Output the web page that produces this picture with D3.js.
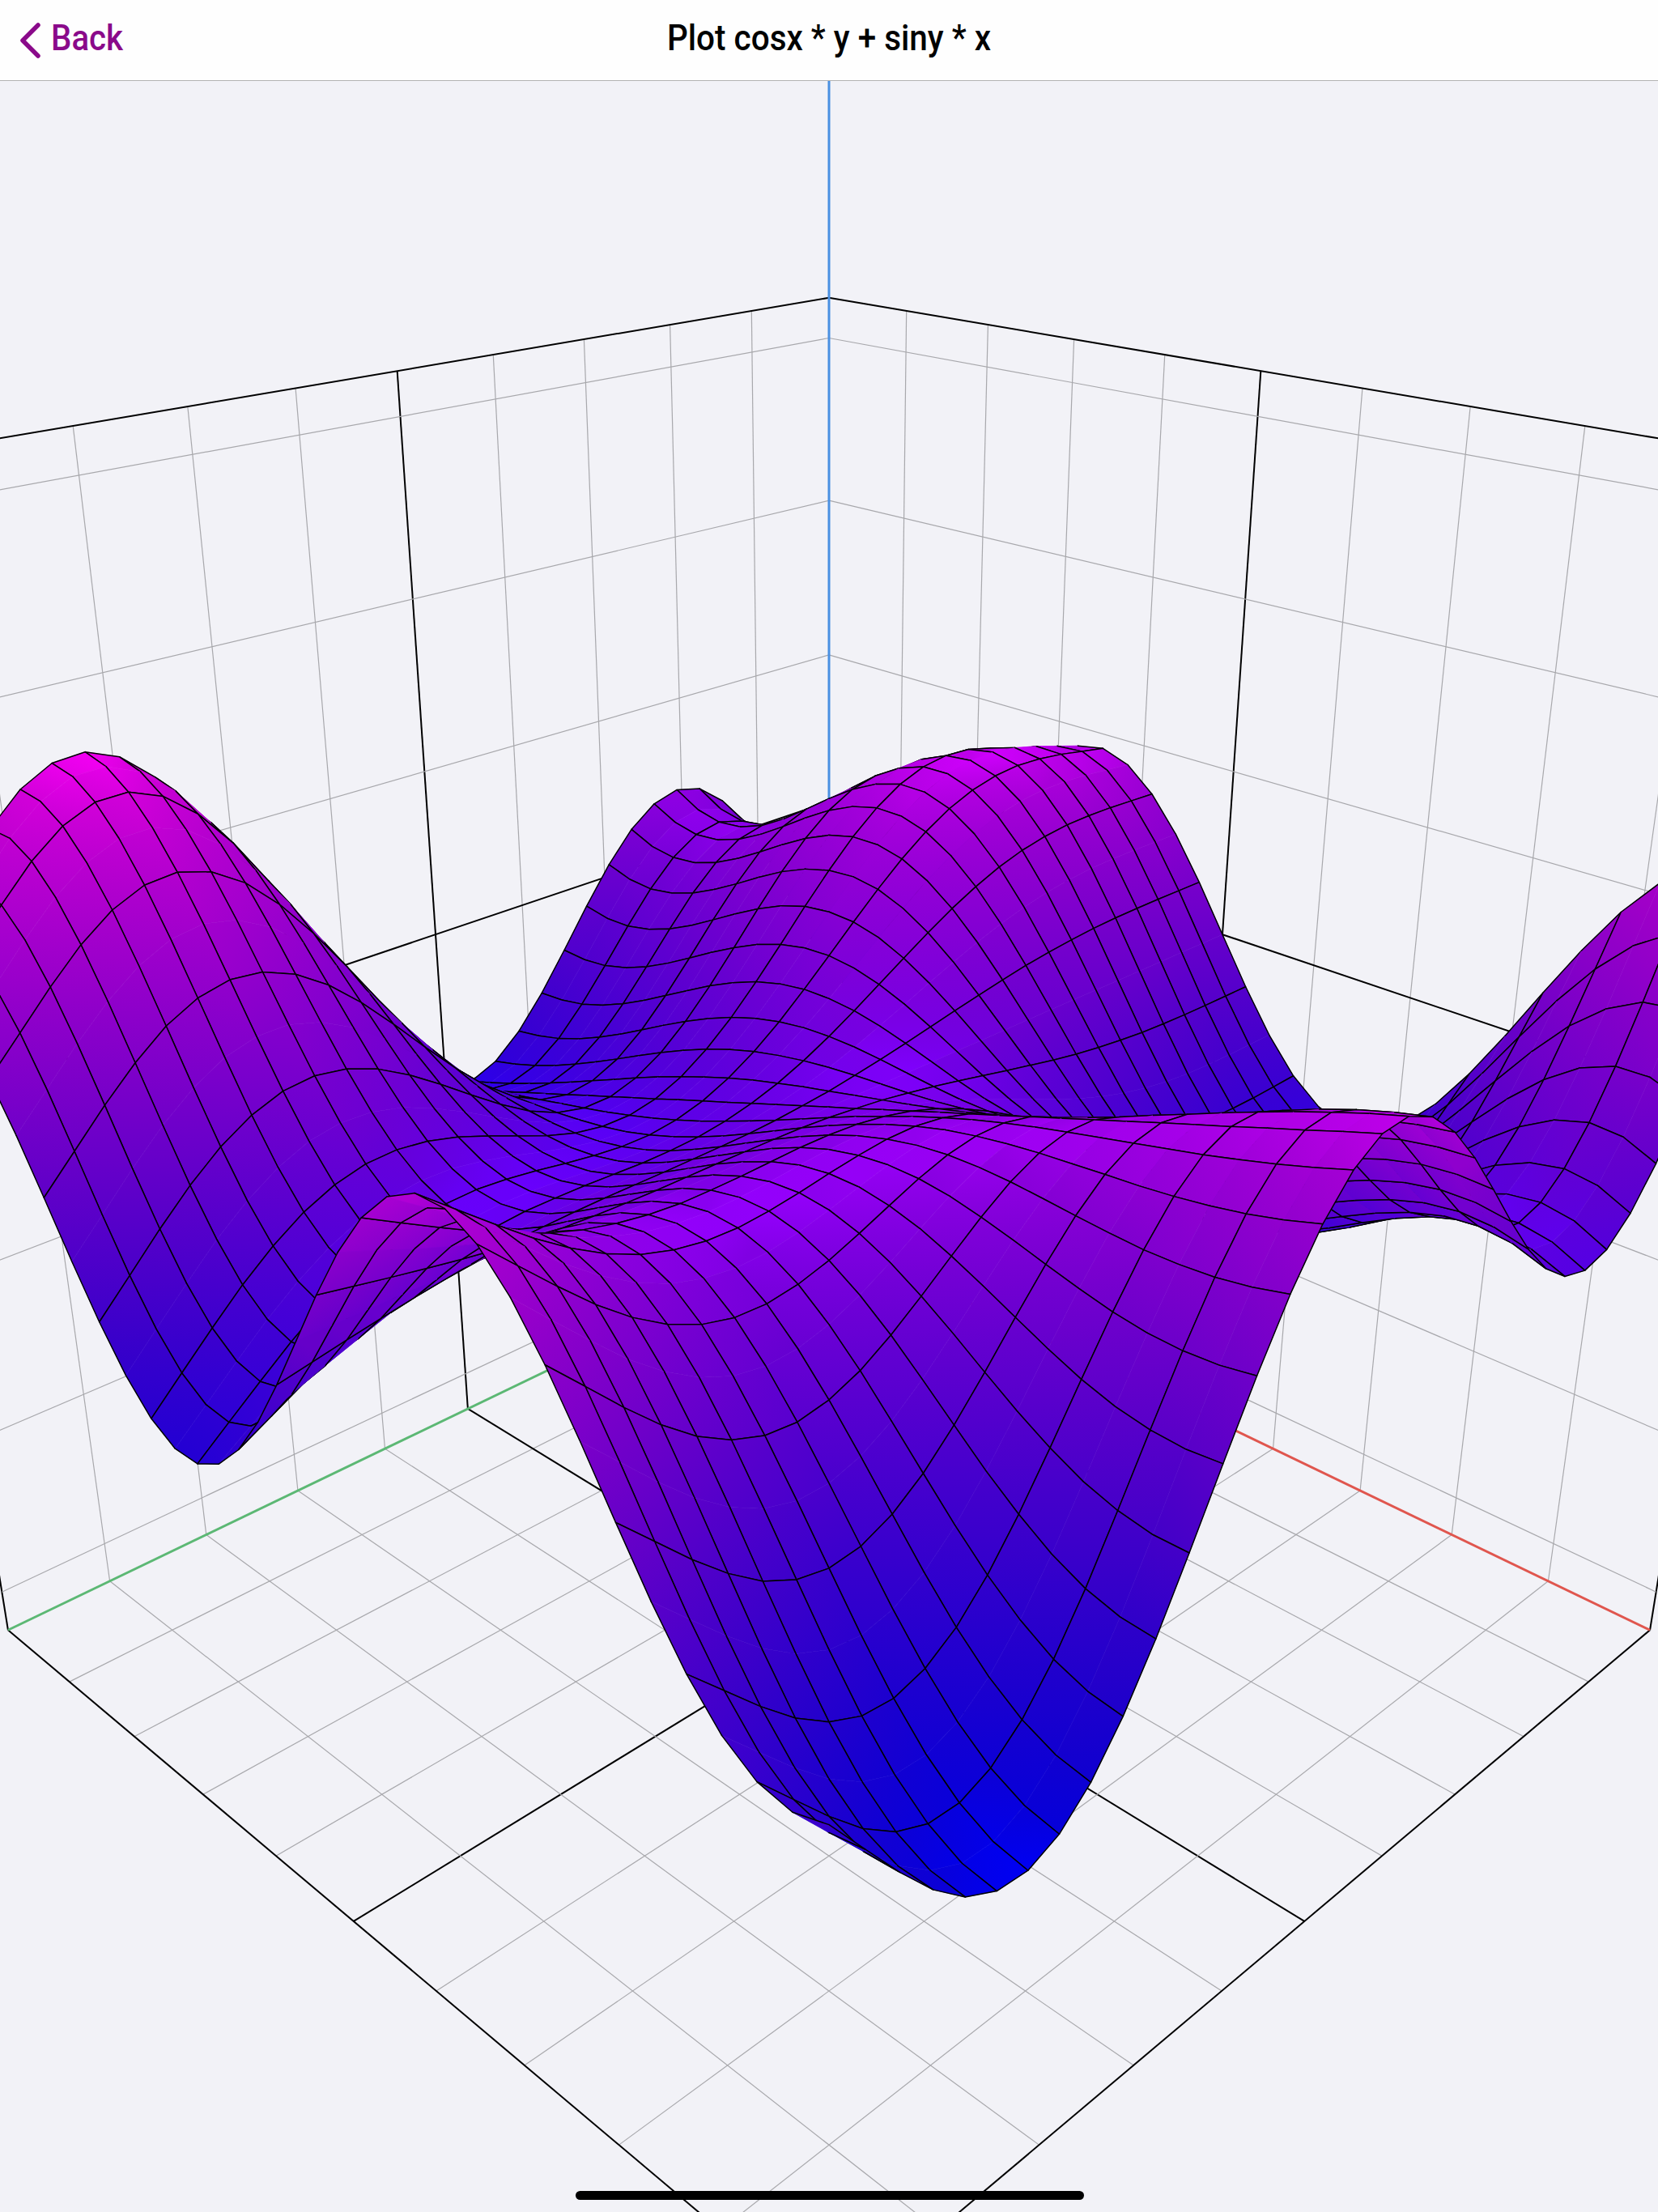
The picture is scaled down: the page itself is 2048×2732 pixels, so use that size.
<!DOCTYPE html>
<html><head><meta charset="utf-8"><title>Plot cosx * y + siny * x</title>
<style>html,body{margin:0;padding:0;background:#f2f2f7}svg{display:block}</style>
<script src="https://cdnjs.cloudflare.com/ajax/libs/d3/7.8.5/d3.min.js"></script></head>
<body><svg id="chart" width="2048" height="2732"></svg>
<script>
const titleText="Plot cosx * y + siny * x";
const backText="Back";
const gridTicks=[-5,-4,-3,-2,-1,0,1,2,3,4,5];
const heightTicks=[-15,-10,-5,0,5,10,15];
const gridValues=[-5,-4.706,-4.412,-4.118,-3.824,-3.529,-3.235,-2.941,-2.647,-2.353,-2.059,-1.765,-1.471,-1.176,-0.882,-0.588,-0.294,0,0.294,0.588,0.882,1.176,1.471,1.765,2.059,2.353,2.647,2.941,3.235,3.529,3.824,4.118,4.412,4.706,5];
const surfaceZ=[
[-6.21,-6.33,-6.03,-5.31,-4.24,-2.89,-1.39,0.16,1.62,2.88,3.83,4.41,4.56,4.28,3.61,2.61,1.37,0,-1.37,-2.61,-3.61,-4.28,-4.56,-4.41,-3.83,-2.88,-1.62,-0.16,1.39,2.89,4.24,5.31,6.03,6.33,6.21],
[-4.48,-4.68,-4.47,-3.87,-2.94,-1.76,-0.42,0.96,2.25,3.35,4.17,4.63,4.69,4.35,3.64,2.62,1.37,0,-1.37,-2.62,-3.64,-4.35,-4.69,-4.63,-4.17,-3.35,-2.25,-0.96,0.42,1.76,2.94,3.87,4.47,4.68,4.48],
[-2.75,-3.02,-2.91,-2.43,-1.65,-0.62,0.55,1.75,2.88,3.83,4.51,4.85,4.83,4.42,3.67,2.62,1.37,0,-1.37,-2.62,-3.67,-4.42,-4.83,-4.85,-4.51,-3.83,-2.88,-1.75,-0.55,0.62,1.65,2.43,2.91,3.02,2.75],
[-1.15,-1.48,-1.46,-1.10,-0.45,0.42,1.43,2.47,3.44,4.24,4.79,5.03,4.92,4.46,3.67,2.61,1.36,0,-1.36,-2.61,-3.67,-4.46,-4.92,-5.03,-4.79,-4.24,-3.44,-2.47,-1.43,-0.42,0.45,1.10,1.46,1.48,1.15],
[0.22,-0.17,-0.23,0.03,0.56,1.29,2.15,3.04,3.87,4.54,4.98,5.12,4.95,4.44,3.64,2.58,1.34,0,-1.34,-2.58,-3.64,-4.44,-4.95,-5.12,-4.98,-4.54,-3.87,-3.04,-2.15,-1.29,-0.56,-0.03,0.23,0.17,-0.22],
[1.24,0.83,0.71,0.89,1.31,1.93,2.66,3.43,4.13,4.68,5.02,5.10,4.87,4.35,3.54,2.50,1.30,0,-1.30,-2.50,-3.54,-4.35,-4.87,-5.10,-5.02,-4.68,-4.13,-3.43,-2.66,-1.93,-1.31,-0.89,-0.71,-0.83,-1.24],
[1.88,1.45,1.30,1.42,1.77,2.29,2.92,3.57,4.17,4.64,4.91,4.93,4.68,4.16,3.38,2.38,1.23,0,-1.23,-2.38,-3.38,-4.16,-4.68,-4.93,-4.91,-4.64,-4.17,-3.57,-2.92,-2.29,-1.77,-1.42,-1.30,-1.45,-1.88],
[2.08,1.67,1.51,1.60,1.89,2.35,2.90,3.47,3.99,4.39,4.62,4.62,4.37,3.87,3.14,2.21,1.14,0,-1.14,-2.21,-3.14,-3.87,-4.37,-4.62,-4.62,-4.39,-3.99,-3.47,-2.90,-2.35,-1.89,-1.60,-1.51,-1.67,-2.08],
[1.86,1.50,1.35,1.43,1.70,2.11,2.60,3.12,3.59,3.95,4.15,4.15,3.93,3.48,2.82,1.99,1.03,0,-1.03,-1.99,-2.82,-3.48,-3.93,-4.15,-4.15,-3.95,-3.59,-3.12,-2.60,-2.11,-1.70,-1.43,-1.35,-1.50,-1.86],
[1.27,0.96,0.86,0.95,1.21,1.60,2.06,2.54,2.98,3.33,3.53,3.55,3.38,3.00,2.44,1.72,0.89,0,-0.89,-1.72,-2.44,-3.00,-3.38,-3.55,-3.53,-3.33,-2.98,-2.54,-2.06,-1.60,-1.21,-0.95,-0.86,-0.96,-1.27],
[0.37,0.15,0.10,0.23,0.50,0.88,1.32,1.79,2.22,2.56,2.78,2.85,2.74,2.45,2.00,1.42,0.73,0,-0.73,-1.42,-2.00,-2.45,-2.74,-2.85,-2.78,-2.56,-2.22,-1.79,-1.32,-0.88,-0.50,-0.23,-0.10,-0.15,-0.37],
[-0.73,-0.86,-0.84,-0.67,-0.38,0.01,0.46,0.92,1.35,1.71,1.96,2.07,2.04,1.86,1.53,1.09,0.57,0,-0.57,-1.09,-1.53,-1.86,-2.04,-2.07,-1.96,-1.71,-1.35,-0.92,-0.46,-0.01,0.38,0.67,0.84,0.86,0.73],
[-1.91,-1.94,-1.85,-1.63,-1.31,-0.91,-0.46,0.00,0.43,0.81,1.09,1.27,1.32,1.24,1.05,0.76,0.40,0,-0.40,-0.76,-1.05,-1.24,-1.32,-1.27,-1.09,-0.81,-0.43,0.00,0.46,0.91,1.31,1.63,1.85,1.94,1.91],
[-3.05,-2.98,-2.82,-2.56,-2.21,-1.80,-1.35,-0.90,-0.46,-0.07,0.25,0.48,0.61,0.63,0.57,0.43,0.23,0,-0.23,-0.43,-0.57,-0.63,-0.61,-0.48,-0.25,0.07,0.46,0.90,1.35,1.80,2.21,2.56,2.82,2.98,3.05],
[-4.02,-3.87,-3.65,-3.35,-2.99,-2.58,-2.14,-1.69,-1.26,-0.87,-0.53,-0.26,-0.06,0.07,0.12,0.12,0.07,0,-0.07,-0.12,-0.12,-0.07,0.06,0.26,0.53,0.87,1.26,1.69,2.14,2.58,2.99,3.35,3.65,3.87,4.02],
[-4.72,-4.50,-4.23,-3.91,-3.55,-3.16,-2.75,-2.33,-1.92,-1.54,-1.19,-0.89,-0.64,-0.44,-0.28,-0.16,-0.07,0,0.07,0.16,0.28,0.44,0.64,0.89,1.19,1.54,1.92,2.33,2.75,3.16,3.55,3.91,4.23,4.50,4.72],
[-5.07,-4.80,-4.50,-4.18,-3.84,-3.49,-3.12,-2.76,-2.39,-2.04,-1.71,-1.40,-1.11,-0.85,-0.62,-0.40,-0.20,0,0.20,0.40,0.62,0.85,1.11,1.40,1.71,2.04,2.39,2.76,3.12,3.49,3.84,4.18,4.50,4.80,5.07],
[-5.00,-4.71,-4.41,-4.12,-3.82,-3.53,-3.24,-2.94,-2.65,-2.35,-2.06,-1.76,-1.47,-1.18,-0.88,-0.59,-0.29,0,0.29,0.59,0.88,1.18,1.47,1.76,2.06,2.35,2.65,2.94,3.24,3.53,3.82,4.12,4.41,4.71,5.00],
[-4.50,-4.21,-3.94,-3.70,-3.47,-3.27,-3.07,-2.87,-2.67,-2.46,-2.23,-1.98,-1.70,-1.40,-1.07,-0.73,-0.37,0,0.37,0.73,1.07,1.40,1.70,1.98,2.23,2.46,2.67,2.87,3.07,3.27,3.47,3.70,3.94,4.21,4.50],
[-3.60,-3.33,-3.11,-2.94,-2.81,-2.71,-2.64,-2.56,-2.48,-2.37,-2.23,-2.05,-1.81,-1.52,-1.19,-0.82,-0.42,0,0.42,0.82,1.19,1.52,1.81,2.05,2.23,2.37,2.48,2.56,2.64,2.71,2.81,2.94,3.11,3.33,3.60],
[-2.33,-2.11,-1.96,-1.89,-1.87,-1.91,-1.97,-2.04,-2.10,-2.12,-2.09,-1.99,-1.81,-1.56,-1.24,-0.86,-0.44,0,0.44,0.86,1.24,1.56,1.81,1.99,2.09,2.12,2.10,2.04,1.97,1.91,1.87,1.89,1.96,2.11,2.33],
[-0.79,-0.63,-0.57,-0.60,-0.72,-0.91,-1.13,-1.36,-1.57,-1.74,-1.83,-1.83,-1.73,-1.54,-1.25,-0.88,-0.45,0,0.45,0.88,1.25,1.54,1.73,1.83,1.83,1.74,1.57,1.36,1.13,0.91,0.72,0.60,0.57,0.63,0.79],
[0.91,1.00,0.96,0.81,0.55,0.20,-0.19,-0.59,-0.96,-1.28,-1.50,-1.62,-1.61,-1.48,-1.22,-0.87,-0.46,0,0.46,0.87,1.22,1.48,1.61,1.62,1.50,1.28,0.96,0.59,0.19,-0.20,-0.55,-0.81,-0.96,-1.00,-0.91],
[2.65,2.67,2.53,2.26,1.85,1.35,0.79,0.21,-0.33,-0.80,-1.16,-1.39,-1.47,-1.40,-1.19,-0.87,-0.46,0,0.46,0.87,1.19,1.40,1.47,1.39,1.16,0.80,0.33,-0.21,-0.79,-1.35,-1.85,-2.26,-2.53,-2.67,-2.65],
[4.32,4.27,4.04,3.64,3.09,2.44,1.71,0.97,0.26,-0.36,-0.85,-1.19,-1.36,-1.35,-1.18,-0.87,-0.46,0,0.46,0.87,1.18,1.35,1.36,1.19,0.85,0.36,-0.26,-0.97,-1.71,-2.44,-3.09,-3.64,-4.04,-4.27,-4.32],
[5.78,5.67,5.36,4.85,4.18,3.38,2.50,1.61,0.75,-0.01,-0.63,-1.06,-1.30,-1.34,-1.19,-0.89,-0.48,0,0.48,0.89,1.19,1.34,1.30,1.06,0.63,0.01,-0.75,-1.61,-2.50,-3.38,-4.18,-4.85,-5.36,-5.67,-5.78],
[6.94,6.79,6.41,5.82,5.04,4.11,3.09,2.06,1.07,0.19,-0.53,-1.04,-1.34,-1.41,-1.27,-0.95,-0.51,0,0.51,0.95,1.27,1.41,1.34,1.04,0.53,-0.19,-1.07,-2.06,-3.09,-4.11,-5.04,-5.82,-6.41,-6.79,-6.94],
[7.72,7.55,7.13,6.47,5.60,4.57,3.44,2.30,1.20,0.22,-0.58,-1.16,-1.49,-1.56,-1.41,-1.06,-0.56,0,0.56,1.06,1.41,1.56,1.49,1.16,0.58,-0.22,-1.20,-2.30,-3.44,-4.57,-5.60,-6.47,-7.13,-7.55,-7.72],
[8.08,7.92,7.48,6.78,5.85,4.74,3.52,2.28,1.10,0.05,-0.81,-1.42,-1.75,-1.82,-1.62,-1.21,-0.65,0,0.65,1.21,1.62,1.82,1.75,1.42,0.81,-0.05,-1.10,-2.28,-3.52,-4.74,-5.85,-6.78,-7.48,-7.92,-8.08],
[8.01,7.89,7.45,6.74,5.77,4.60,3.32,2.02,0.77,-0.33,-1.21,-1.83,-2.15,-2.17,-1.91,-1.41,-0.75,0,0.75,1.41,1.91,2.17,2.15,1.83,1.21,0.33,-0.77,-2.02,-3.32,-4.60,-5.77,-6.74,-7.45,-7.89,-8.01],
[7.55,7.47,7.07,6.36,5.38,4.18,2.87,1.52,0.24,-0.89,-1.78,-2.38,-2.66,-2.62,-2.27,-1.66,-0.88,0,0.88,1.66,2.27,2.62,2.66,2.38,1.78,0.89,-0.24,-1.52,-2.87,-4.18,-5.38,-6.36,-7.07,-7.47,-7.55],
[6.75,6.75,6.40,5.72,4.74,3.53,2.19,0.83,-0.47,-1.60,-2.48,-3.05,-3.27,-3.14,-2.69,-1.96,-1.03,0,1.03,1.96,2.69,3.14,3.27,3.05,2.48,1.60,0.47,-0.83,-2.19,-3.53,-4.74,-5.72,-6.40,-6.75,-6.75],
[5.71,5.80,5.51,4.87,3.91,2.71,1.37,-0.01,-1.31,-2.44,-3.29,-3.81,-3.96,-3.73,-3.15,-2.27,-1.19,0,1.19,2.27,3.15,3.73,3.96,3.81,3.29,2.44,1.31,0.01,-1.37,-2.71,-3.91,-4.87,-5.51,-5.80,-5.71],
[4.55,4.74,4.52,3.93,2.99,1.80,0.46,-0.92,-2.22,-3.32,-4.14,-4.61,-4.67,-4.34,-3.63,-2.61,-1.36,0,1.36,2.61,3.63,4.34,4.67,4.61,4.14,3.32,2.22,0.92,-0.46,-1.80,-2.99,-3.93,-4.52,-4.74,-4.55],
[3.38,3.67,3.52,2.98,2.07,0.89,-0.45,-1.83,-3.12,-4.21,-5.00,-5.41,-5.39,-4.95,-4.11,-2.94,-1.53,0,1.53,2.94,4.11,4.95,5.39,5.41,5.00,4.21,3.12,1.83,0.45,-0.89,-2.07,-2.98,-3.52,-3.67,-3.38]
];

const k=2048/1175;
const planeScale=d3.scaleLinear().domain([-5,5]).range([0,1]);
const heightScale=d3.scaleLinear().domain([-16.3,16.2]).range([0,1]);
const colorScale=d3.scaleLinear().domain([-8.1,8.1]).range(["#0000ff","#ff00ff"]);
function project(a,b,c){
  const w=1-.2145*(a+b)-.146*c;
  return [1024+k*457*(a-b)/w, k*(875.1+32.2*(a+b)-694.9*c)/w];
}
const point=(y,x,z)=>project(planeScale(y),planeScale(x),heightScale(z));
const svg=d3.select("#chart");
svg.append("rect").attr("width",2048).attr("height",2732).attr("fill","#f2f2f7");
const defs=svg.append("defs");
const frame=svg.append("g").attr("fill","none");
const gridColor="#a8a8ac",black="#000";
const segments=[];
const add=(p,q,color,width)=>segments.push({p,q,color,width});
const zMin=heightScale.domain()[0],zMax=heightScale.domain()[1];
gridTicks.forEach(t=>{
  const major=t===0||t===5;
  const col=major?black:gridColor, wid=major?2:1.2;
  if(t!==-5){
    add(point(t,-5,zMin),point(t,5,zMin),col,wid);
    add(point(-5,t,zMin),point(5,t,zMin),col,wid);
    add(point(t,-5,zMin),point(t,-5,zMax),col,wid);
    add(point(-5,t,zMin),point(-5,t,zMax),col,wid);
  }
});
heightTicks.forEach(h=>{
  const col=h===0?black:gridColor, wid=h===0?2:1.2;
  add(point(-5,-5,h),point(5,-5,h),col,wid);
  add(point(-5,-5,h),point(-5,5,h),col,wid);
});
add(point(-5,-5,zMax),point(5,-5,zMax),black,2);
add(point(-5,-5,zMax),point(-5,5,zMax),black,2);
add(point(-5,-5,zMin),point(5,-5,zMin),"#e0564e",3);
add(point(-5,-5,zMin),point(-5,5,zMin),"#5cb874",3);
add(point(-5,-5,zMin),point(-5,-5,26),"#4a90e2",3);
frame.selectAll("line").data(segments).join("line")
  .attr("x1",d=>d.p[0]).attr("y1",d=>d.p[1]).attr("x2",d=>d.q[0]).attr("y2",d=>d.q[1])
  .attr("stroke",d=>d.color).attr("stroke-width",d=>d.width);

const last=gridValues.length-1;
function shadeAt(a,b){
  const a0=Math.max(a-1,0),a1=Math.min(a+1,last),b0=Math.max(b-1,0),b1=Math.min(b+1,last);
  const gx=(surfaceZ[a1][b]-surfaceZ[a0][b])/(gridValues[a1]-gridValues[a0]);
  const gy=(surfaceZ[a][b1]-surfaceZ[a][b0])/(gridValues[b1]-gridValues[b0]);
  return .74+.26/Math.sqrt(1+gx*gx+gy*gy);
}
function vertexColor(a,b){
  const c=d3.rgb(colorScale(surfaceZ[a][b])),s=shadeAt(a,b);
  return d3.rgb(c.r*s,c.g*s,c.b*s).formatRgb();
}
const cells=[];
d3.range(last).forEach(i=>d3.range(last).forEach(j=>{
  const corners=[[i,j],[i+1,j],[i+1,j+1],[i,j+1]].map(([a,b])=>{
    const z=surfaceZ[a][b];
    return {z,color:vertexColor(a,b),pos:point(gridValues[b],gridValues[a],z)};
  });
  cells.push({i,j,corners,lo:d3.least(corners,c=>c.z),hi:d3.greatest(corners,c=>c.z)});
}));
cells.sort((a,b)=>(a.i+a.j)-(b.i+b.j));
const gradients=defs.selectAll("linearGradient").data(cells).join("linearGradient")
  .attr("id",(d,n)=>"c"+n).attr("gradientUnits","userSpaceOnUse")
  .attr("x1",d=>d.lo.pos[0]).attr("y1",d=>d.lo.pos[1]).attr("x2",d=>d.hi.pos[0]).attr("y2",d=>d.hi.pos[1]);
gradients.append("stop").attr("offset",0).attr("stop-color",d=>d.lo.color);
gradients.append("stop").attr("offset",1).attr("stop-color",d=>d.hi.color);
const cellGroups=svg.append("g").selectAll("g").data(cells).join("g");
cellGroups.append("path")
  .attr("d",d=>d3.line()(d.corners.map(c=>c.pos))+"Z")
  .attr("fill",(d,n)=>`url(#c${n})`)
  .attr("stroke",(d,n)=>`url(#c${n})`).attr("stroke-width",.6).attr("stroke-linejoin","round");
cellGroups.append("path")
  .attr("d",d=>{
    const [a,b,c,e]=d.corners.map(v=>v.pos);
    const line=(p,q)=>`M${p[0]},${p[1]}L${q[0]},${q[1]}`;
    let out=line(a,e)+line(b,c);
    if(d.j%2===0) out+=line(a,b);
    if((d.j+1)%2===0) out+=line(e,c);
    return out;
  })
  .attr("fill","none").attr("stroke","#000").attr("stroke-width",1.5).attr("stroke-linecap","round");

svg.append("rect").attr("width",2048).attr("height",99).attr("fill","#fefefe");
svg.append("line").attr("x1",0).attr("x2",2048).attr("y1",99.5).attr("y2",99.5).attr("stroke","#b3b3b3").attr("stroke-width",1);
svg.append("path").attr("d","M47,31L28,50L47,69").attr("fill","none").attr("stroke","#8a0a8a").attr("stroke-width",5.5).attr("stroke-linecap","round").attr("stroke-linejoin","round");
svg.append("text").attr("x",63).attr("y",62).attr("font-family","Roboto, sans-serif").attr("font-weight",500).attr("font-size",44).attr("fill","#8a0a8a").attr("textLength",89).attr("lengthAdjust","spacingAndGlyphs").text(backText);
svg.append("text").attr("x",1024).attr("y",62).attr("text-anchor","middle").attr("font-family","Roboto, sans-serif").attr("font-weight",500).attr("font-size",44).attr("fill","#000").attr("textLength",400).attr("lengthAdjust","spacingAndGlyphs").text(titleText);
svg.append("rect").attr("x",711).attr("y",2706).attr("width",628).attr("height",11).attr("rx",5.5).attr("fill","#000");
</script></body></html>
